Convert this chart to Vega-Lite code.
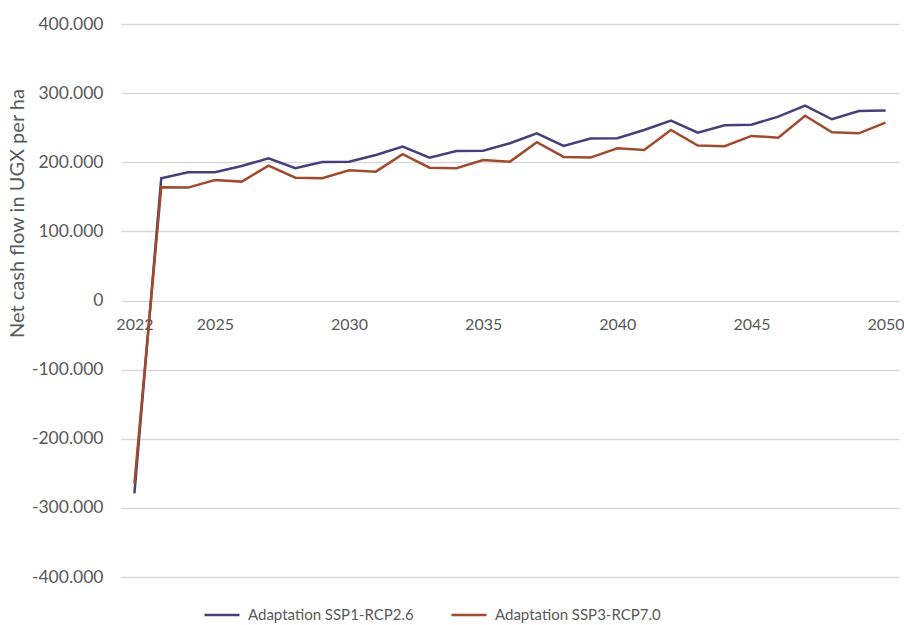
{
  "$schema": "https://vega.github.io/schema/vega-lite/v6.json",
  "width": 778,
  "height": 553,
  "autosize": {"type": "none"},
  "padding": {"left": 121, "top": 24, "right": 5, "bottom": 48},
  "background": "white",
  "config": {
    "font": "Lato",
    "view": {"stroke": null},
    "axis": {"labelFont": "Lato", "titleFont": "Lato", "labelColor": "#595959", "titleColor": "#595959"}
  },
  "data": {
    "values": [
      {"year": 2022, "scenario": "Adaptation SSP1-RCP2.6", "value": -279000},
      {"year": 2023, "scenario": "Adaptation SSP1-RCP2.6", "value": 176800},
      {"year": 2024, "scenario": "Adaptation SSP1-RCP2.6", "value": 185500},
      {"year": 2025, "scenario": "Adaptation SSP1-RCP2.6", "value": 185500},
      {"year": 2026, "scenario": "Adaptation SSP1-RCP2.6", "value": 194600},
      {"year": 2027, "scenario": "Adaptation SSP1-RCP2.6", "value": 205800},
      {"year": 2028, "scenario": "Adaptation SSP1-RCP2.6", "value": 191300},
      {"year": 2029, "scenario": "Adaptation SSP1-RCP2.6", "value": 200400},
      {"year": 2030, "scenario": "Adaptation SSP1-RCP2.6", "value": 200900},
      {"year": 2031, "scenario": "Adaptation SSP1-RCP2.6", "value": 210600},
      {"year": 2032, "scenario": "Adaptation SSP1-RCP2.6", "value": 222600},
      {"year": 2033, "scenario": "Adaptation SSP1-RCP2.6", "value": 206700},
      {"year": 2034, "scenario": "Adaptation SSP1-RCP2.6", "value": 216400},
      {"year": 2035, "scenario": "Adaptation SSP1-RCP2.6", "value": 216800},
      {"year": 2036, "scenario": "Adaptation SSP1-RCP2.6", "value": 227500},
      {"year": 2037, "scenario": "Adaptation SSP1-RCP2.6", "value": 241900},
      {"year": 2038, "scenario": "Adaptation SSP1-RCP2.6", "value": 223600},
      {"year": 2039, "scenario": "Adaptation SSP1-RCP2.6", "value": 234200},
      {"year": 2040, "scenario": "Adaptation SSP1-RCP2.6", "value": 234700},
      {"year": 2041, "scenario": "Adaptation SSP1-RCP2.6", "value": 246700},
      {"year": 2042, "scenario": "Adaptation SSP1-RCP2.6", "value": 260200},
      {"year": 2043, "scenario": "Adaptation SSP1-RCP2.6", "value": 242800},
      {"year": 2044, "scenario": "Adaptation SSP1-RCP2.6", "value": 253500},
      {"year": 2045, "scenario": "Adaptation SSP1-RCP2.6", "value": 254400},
      {"year": 2046, "scenario": "Adaptation SSP1-RCP2.6", "value": 266000},
      {"year": 2047, "scenario": "Adaptation SSP1-RCP2.6", "value": 281900},
      {"year": 2048, "scenario": "Adaptation SSP1-RCP2.6", "value": 262200},
      {"year": 2049, "scenario": "Adaptation SSP1-RCP2.6", "value": 274200},
      {"year": 2050, "scenario": "Adaptation SSP1-RCP2.6", "value": 274700},
      {"year": 2022, "scenario": "Adaptation SSP3-RCP7.0", "value": -265000},
      {"year": 2023, "scenario": "Adaptation SSP3-RCP7.0", "value": 163800},
      {"year": 2024, "scenario": "Adaptation SSP3-RCP7.0", "value": 163300},
      {"year": 2025, "scenario": "Adaptation SSP3-RCP7.0", "value": 174400},
      {"year": 2026, "scenario": "Adaptation SSP3-RCP7.0", "value": 172000},
      {"year": 2027, "scenario": "Adaptation SSP3-RCP7.0", "value": 195100},
      {"year": 2028, "scenario": "Adaptation SSP3-RCP7.0", "value": 177700},
      {"year": 2029, "scenario": "Adaptation SSP3-RCP7.0", "value": 176800},
      {"year": 2030, "scenario": "Adaptation SSP3-RCP7.0", "value": 188400},
      {"year": 2031, "scenario": "Adaptation SSP3-RCP7.0", "value": 186400},
      {"year": 2032, "scenario": "Adaptation SSP3-RCP7.0", "value": 211600},
      {"year": 2033, "scenario": "Adaptation SSP3-RCP7.0", "value": 192200},
      {"year": 2034, "scenario": "Adaptation SSP3-RCP7.0", "value": 191300},
      {"year": 2035, "scenario": "Adaptation SSP3-RCP7.0", "value": 203300},
      {"year": 2036, "scenario": "Adaptation SSP3-RCP7.0", "value": 200900},
      {"year": 2037, "scenario": "Adaptation SSP3-RCP7.0", "value": 228900},
      {"year": 2038, "scenario": "Adaptation SSP3-RCP7.0", "value": 207700},
      {"year": 2039, "scenario": "Adaptation SSP3-RCP7.0", "value": 206700},
      {"year": 2040, "scenario": "Adaptation SSP3-RCP7.0", "value": 220200},
      {"year": 2041, "scenario": "Adaptation SSP3-RCP7.0", "value": 217800},
      {"year": 2042, "scenario": "Adaptation SSP3-RCP7.0", "value": 246700},
      {"year": 2043, "scenario": "Adaptation SSP3-RCP7.0", "value": 224100},
      {"year": 2044, "scenario": "Adaptation SSP3-RCP7.0", "value": 223100},
      {"year": 2045, "scenario": "Adaptation SSP3-RCP7.0", "value": 238100},
      {"year": 2046, "scenario": "Adaptation SSP3-RCP7.0", "value": 235600},
      {"year": 2047, "scenario": "Adaptation SSP3-RCP7.0", "value": 267400},
      {"year": 2048, "scenario": "Adaptation SSP3-RCP7.0", "value": 243400},
      {"year": 2049, "scenario": "Adaptation SSP3-RCP7.0", "value": 241900},
      {"year": 2050, "scenario": "Adaptation SSP3-RCP7.0", "value": 257300}
    ]
  },
  "mark": {"type": "line", "strokeWidth": 2.5, "clip": false},
  "encoding": {
    "x": {
      "field": "year",
      "type": "quantitative",
      "scale": {"domain": [2021.5, 2050.5], "nice": false, "zero": false},
      "axis": {
        "title": null,
        "values": [2022, 2025, 2030, 2035, 2040, 2045, 2050],
        "format": "d",
        "grid": false,
        "domain": false,
        "ticks": false,
        "offset": -276.5,
        "labelPadding": 16,
        "labelFontSize": 16,
        "labelDx": -1.5,
        "labelFlush": false
      }
    },
    "y": {
      "field": "value",
      "type": "quantitative",
      "scale": {"domain": [-400000, 400000], "nice": false},
      "axis": {
        "title": "Net cash flow in UGX per ha",
        "titleFontSize": 20,
        "titleFontWeight": "normal",
        "titleAngle": -90,
        "titleX": -104,
        "titleY": 189,
        "titleAlign": "center",
        "titleBaseline": "middle",
        "values": [-400000, -300000, -200000, -100000, 0, 100000, 200000, 300000, 400000],
        "labelExpr": "datum.value == 0 ? '0' : replace(replace(format(datum.value, ',d'), ',', '.'), '\u2212', '-')",
        "labelFontSize": 17.5,
        "labelPadding": 18,
        "grid": true,
        "gridColor": "#d9d9d9",
        "gridWidth": 1.5,
        "domain": false,
        "ticks": false
      }
    },
    "color": {
      "field": "scenario",
      "type": "nominal",
      "scale": {"domain": ["Adaptation SSP1-RCP2.6", "Adaptation SSP3-RCP7.0"], "range": ["#463f78", "#a04a2e"]},
      "legend": {
        "title": null,
        "orient": "none",
        "direction": "horizontal",
        "legendX": 82,
        "legendY": 572,
        "symbolType": "stroke",
        "symbolSize": 1225,
        "symbolStrokeWidth": 2.5,
        "labelFontSize": 15,
        "labelColor": "#595959",
        "labelFont": "Lato",
        "labelLimit": 400,
        "columnPadding": 32,
        "labelOffset": 7
      }
    }
  }
}
